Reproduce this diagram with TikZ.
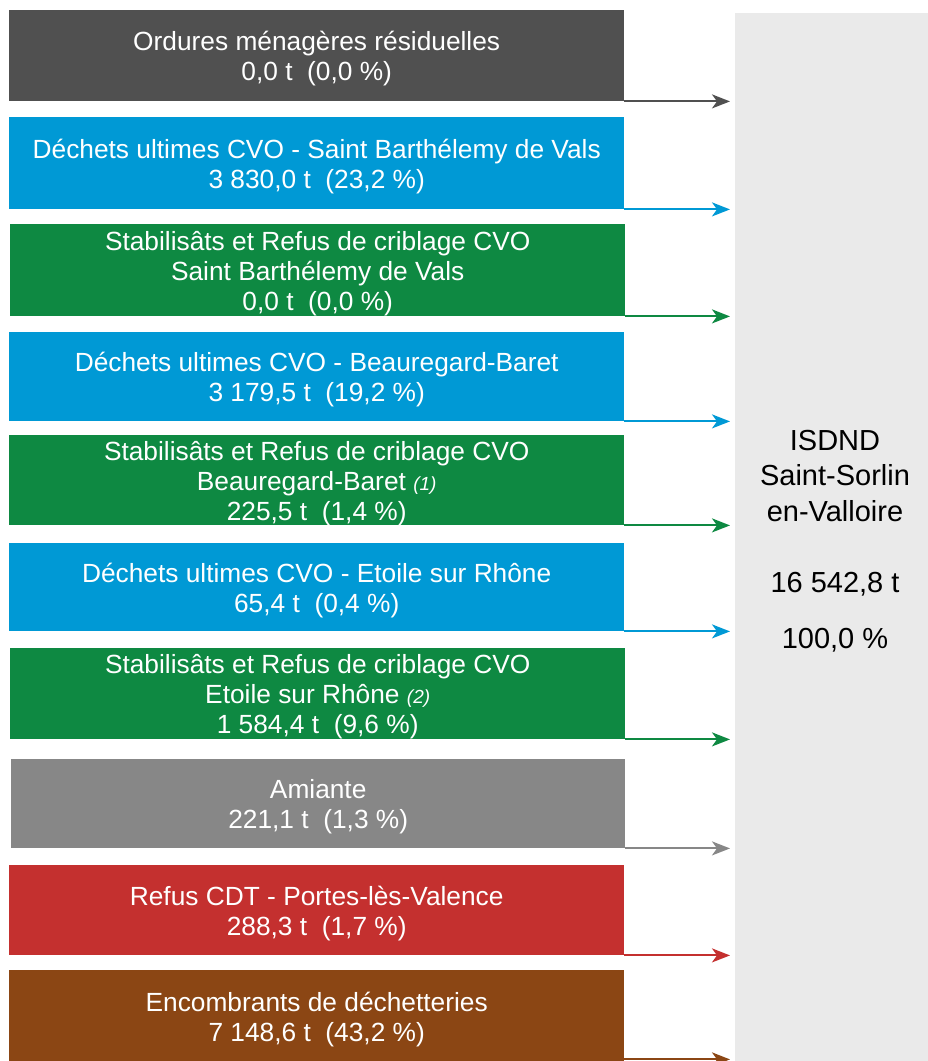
\documentclass[tikz,border=0pt]{standalone}
\usepackage{fontspec}
\setmainfont{Liberation Sans}
\usetikzlibrary{arrows.meta}
\definecolor{cdark}{HTML}{505050}
\definecolor{cblue}{HTML}{0099D5}
\definecolor{cgreen}{HTML}{0E8942}
\definecolor{cgrey}{HTML}{878787}
\definecolor{cred}{HTML}{C4302F}
\definecolor{cbrown}{HTML}{8B4614}
\definecolor{cpanel}{HTML}{EAEAEA}
\begin{document}
\begin{tikzpicture}[x=1pt,y=-1pt,
  box/.style={anchor=north west, inner sep=0pt, minimum width=615pt},
  txt/.style={align=center, inner sep=0pt, text=white, font=\fontsize{26.3}{30}\selectfont, yshift=-3pt},
  arr/.style={line width=2pt, -{Stealth[length=18pt,width=14pt,inset=5pt]}, shorten >=5pt},
  panel/.style={anchor=north west, inner sep=0pt, fill=cpanel, minimum width=193pt, minimum height=1049pt},
  lbl/.style={align=center, text=black, font=\fontsize{29}{35.5}\selectfont}]
\useasboundingbox (0,0) rectangle (928,1061);
\newcommand{\fn}[1]{{\fontsize{19}{19}\selectfont\itshape #1}}
\node[panel] (isd) at (735,13) {};
\node[lbl] (isdtxt) at (835,541) {ISDND\\Saint-Sorlin\\en-Valloire\\[35.5pt]16 542,8 t\\[20.5pt]100,0~\%};

\node[box, fill=cdark, minimum height=91pt] (b1) at (9,10) {};
\node[txt] (t1) at (b1.center) {Ordures ménagères résiduelles\\0,0 t~~(0,0~\%)};
\node[box, fill=cblue, minimum height=92pt] (b2) at (9,117) {};
\node[txt] (t2) at (b2.center) {Déchets ultimes CVO - Saint Barthélemy de Vals\\3 830,0 t~~(23,2~\%)};
\node[box, fill=cgreen, minimum height=92pt] (b3) at (10,224) {};
\node[txt] (t3) at (b3.center) {Stabilisâts et Refus de criblage CVO\\Saint Barthélemy de Vals\\0,0 t~~(0,0~\%)};
\node[box, fill=cblue, minimum height=89pt] (b4) at (9,332) {};
\node[txt] (t4) at (b4.center) {Déchets ultimes CVO - Beauregard-Baret\\3 179,5 t~~(19,2~\%)};
\node[box, fill=cgreen, minimum height=90pt] (b5) at (9,435) {};
\node[txt] (t5) at (b5.center) {Stabilisâts et Refus de criblage CVO\\Beauregard-Baret \fn{(1)}\\225,5 t~~(1,4~\%)};
\node[box, fill=cblue, minimum height=88pt] (b6) at (9,543) {};
\node[txt] (t6) at (b6.center) {Déchets ultimes CVO - Etoile sur Rhône\\65,4 t~~(0,4~\%)};
\node[box, fill=cgreen, minimum height=91pt] (b7) at (10,648) {};
\node[txt] (t7) at (b7.center) {Stabilisâts et Refus de criblage CVO\\Etoile sur Rhône \fn{(2)}\\1 584,4 t~~(9,6~\%)};
\node[box, fill=cgrey, minimum height=89pt, minimum width=614pt] (b8) at (11,759) {};
\node[txt] (t8) at (b8.center) {Amiante\\221,1 t~~(1,3~\%)};
\node[box, fill=cred, minimum height=90pt] (b9) at (9,865) {};
\node[txt] (t9) at (b9.center) {Refus CDT - Portes-lès-Valence\\288,3 t~~(1,7~\%)};
\node[box, fill=cbrown, minimum height=92pt] (b10) at (9,970) {};
\node[txt] (t10) at (b10.center) {Encombrants de déchetteries\\7 148,6 t~~(43,2~\%)};

\foreach \b/\c in {b1/cdark,b2/cblue,b3/cgreen,b4/cblue,b5/cgreen,b6/cblue,b7/cgreen,b8/cgrey,b9/cred}
  \draw[arr,\c] (\b.south east) -- (\b.south east -| isd.west);
\draw[arr,cbrown] ([yshift=3pt]b10.south east) -- ([yshift=3pt]b10.south east -| isd.west);
\end{tikzpicture}
\end{document}
